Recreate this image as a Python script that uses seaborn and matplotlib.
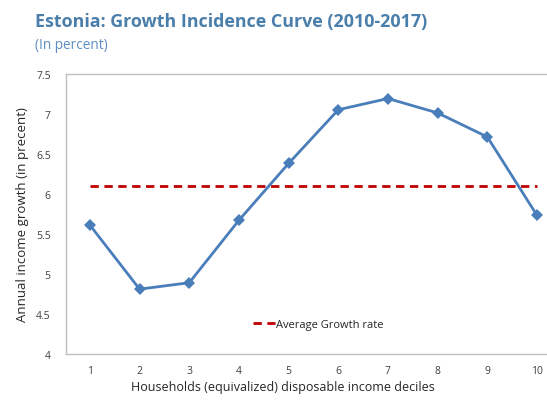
import pandas as pd
import numpy as np
import matplotlib
matplotlib.use("Agg")
import matplotlib.pyplot as plt
import seaborn as sns

# 数据：按十分位的年均收入增长（%）
deciles = [1, 2, 3, 4, 5, 6, 7, 8, 9, 10]
growth = [5.61, 4.81, 4.89, 5.67, 6.38, 7.05, 7.19, 7.01, 6.71, 5.73]
avg_growth = [6.1] * 10

df = pd.DataFrame({"decile": deciles, "growth": growth, "avg": avg_growth})

sns.set_theme(style="white")
plt.rcParams['font.family'] = ['Open Sans', 'DejaVu Sans']

fig = plt.figure(figsize=(5.47, 4.02), dpi=100)
ax = fig.add_axes([0.1207, 0.1169, 0.8793, 0.6973])

sns.lineplot(data=df, x="decile", y="avg", ax=ax, color="#C00000",
             linewidth=2.0, linestyle=(0, (3, 2)), label="Average Growth rate")
sns.lineplot(data=df, x="decile", y="growth", ax=ax, color="#4A7EBB",
             linewidth=2.0, marker="D", markersize=6, markeredgewidth=0,
             legend=False)

ax.set_xlim(0.52, 10.2)
ax.set_ylim(4, 7.5)
ax.set_xticks(deciles)
ax.set_yticks([4, 4.5, 5, 5.5, 6, 6.5, 7, 7.5])
ax.set_yticklabels(["4", "4.5", "5", "5.5", "6", "6.5", "7", "7.5"])
ax.tick_params(axis="both", direction="in", length=4, width=0.8,
               color="#BFBFBF", labelsize=7.5, labelcolor="#404040", pad=11)
ax.tick_params(axis="x", pad=8)

for side in ["left", "bottom", "top"]:
    ax.spines[side].set_color("#BFBFBF")
    ax.spines[side].set_linewidth(1.0)
ax.spines["right"].set_visible(False)

ax.set_xlabel("Households (equivalized) disposable income deciles",
              fontsize=9, color="#262626")
ax.xaxis.set_label_coords(0.45, -0.093)
ax.set_ylabel("Annual income growth (in precent)", fontsize=9.5,
              color="#262626")
ax.yaxis.set_label_coords(-0.078, 0.5)

leg = ax.legend(loc="center", bbox_to_anchor=(0.524, 0.105), frameon=False,
                fontsize=8, handlelength=2.0, handletextpad=0.05)
for t in leg.get_texts():
    t.set_color("#262626")

fig.text(0.064, 0.945, "Estonia: Growth Incidence Curve (2010-2017)",
         fontsize=12.9, fontweight="bold", color="#4A7EAB", va="center")
fig.text(0.064, 0.888, "(In percent)", fontsize=9.8, color="#5B8DC0",
         va="center")

fig.savefig("out.png", dpi=100)
